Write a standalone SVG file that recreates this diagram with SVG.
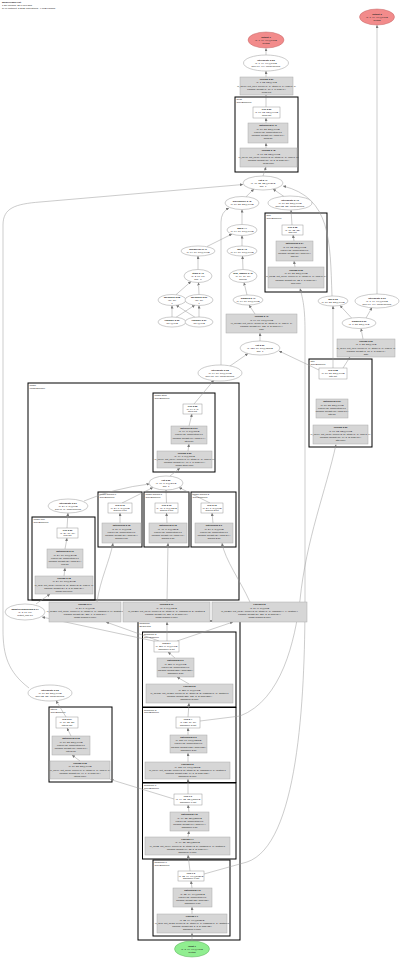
<svg xmlns="http://www.w3.org/2000/svg" width="400" height="958" viewBox="0 0 400 958">
<style>
text{font-family:"Liberation Sans",Arial,sans-serif;font-size:2.4px;text-anchor:middle;fill:#222}
.b{font-weight:bold}
.s{text-anchor:start}
.e{fill:#fff;stroke:#999;stroke-width:0.5}
.r{fill:#fff;stroke:#999;stroke-width:0.5}
.g{fill:#d6d6d6;stroke:#aaa;stroke-width:0.5}
.c{fill:none;stroke:#000;stroke-width:1}
.o{fill:#f28b8b;stroke:#c46a6a;stroke-width:0.5}
.i{fill:#90ee90;stroke:#5fb05f;stroke-width:0.5}
.l{fill:none;stroke:#999;stroke-width:0.5;marker-end:url(#a)}
</style>
<defs>
<marker id="a" markerUnits="userSpaceOnUse" markerWidth="3" markerHeight="3" refX="3" refY="1.5" orient="auto"><path d="M0,0 L3,1.5 L0,3 z" fill="#777"/></marker>
</defs>
<rect width="400" height="958" fill="#fff"/>
<g id="title">
<text class="s b" x="2" y="3">ModelGraph Plot</text>
<text class="s" x="2" y="5.8">1.2M params, 25.8 MFLOPs</text>
<text class="s" x="2" y="8.6">RAM footprint: 3.2MB (activations), 4.6MB params</text>
</g>

<g id="clusters">
<rect class="c" x="235" y="97" width="63" height="75"/><text class="s" x="236.5" y="100">head</text><text class="s" x="236.5" y="102.6">ConvBNReLU</text>
<rect class="c" x="265" y="213" width="62" height="79"/><text class="s" x="266.5" y="216">skip</text><text class="s" x="266.5" y="218.6">ConvBNReLU</text>
<rect class="c" x="309" y="359" width="63" height="88"/><text class="s" x="310.5" y="362">attn</text><text class="s" x="310.5" y="364.6">ConvBNReLU</text>
<rect class="c" x="28" y="383" width="211" height="217"/><text class="s" x="29.5" y="386">image</text><text class="s" x="29.5" y="388.6">ImageEncoder</text>
<rect class="c" x="153" y="393" width="62" height="79"/><text class="s" x="154.5" y="396">image.stem</text><text class="s" x="154.5" y="398.6">ConvBNReLU</text>
<rect class="c" x="32" y="517" width="63" height="83"/><text class="s" x="33.5" y="520">image.proj</text><text class="s" x="33.5" y="522.6">ConvBNReLU</text>
<rect class="c" x="98" y="492" width="44" height="55"/><text class="s" x="99.5" y="495">image.branch.0</text><text class="s" x="99.5" y="497.6">ConvBNReLU</text>
<rect class="c" x="144" y="492" width="45" height="55"/><text class="s" x="145.5" y="495">image.branch.1</text><text class="s" x="145.5" y="497.6">ConvBNReLU</text>
<rect class="c" x="191" y="492" width="45" height="55"/><text class="s" x="192.5" y="495">image.branch.2</text><text class="s" x="192.5" y="497.6">ConvBNReLU</text>
<rect class="c" x="138" y="621" width="102" height="319"/><text class="s" x="139.5" y="624">backbone</text><text class="s" x="139.5" y="626.6">Sequential</text>
<rect class="c" x="142.5" y="632" width="93.5" height="75"/><text class="s" x="144" y="635">backbone.3</text><text class="s" x="144" y="637.6">ConvBNReLU</text>
<rect class="c" x="142.5" y="707.5" width="93.5" height="75"/><text class="s" x="144" y="710.5">backbone.2</text><text class="s" x="144" y="713.1">ConvBNReLU</text>
<rect class="c" x="142.5" y="783" width="93.5" height="76"/><text class="s" x="144" y="786">backbone.1</text><text class="s" x="144" y="788.6">ConvBNReLU</text>
<rect class="c" x="153" y="860" width="77" height="76"/><text class="s" x="154.5" y="863">backbone.0</text><text class="s" x="154.5" y="865.6">ConvBNReLU</text>
<rect class="c" x="49" y="707" width="63" height="75"/><text class="s" x="50.5" y="710">lateral</text><text class="s" x="50.5" y="712.6">ConvBNReLU</text>
</g>

<g id="edges">
<path class="l" d="M266,55 L266,48.3"/>
<path class="l" d="M266,77 L266,71"/>
<path class="l" d="M266,107 L266,95"/>
<path class="l" d="M266,123 L266,118"/>
<path class="l" d="M266,148 L266,143"/>
<path class="l" d="M263,176 L266,167"/>
<path class="l" d="M246,196.8 L254,189"/>
<path class="l" d="M284,196.5 L273,189"/>
<path class="l" d="M242,224.5 L242,209.5"/>
<path class="l" d="M207,246.5 L232,234"/>
<path class="l" d="M242,246 L242,235.5"/>
<path class="l" d="M198,269.5 L198,256"/>
<path class="l" d="M243,269.5 L242.5,256"/>
<path class="l" d="M176,294.7 L191,281.5"/>
<path class="l" d="M199,294.5 L198.5,282.5"/>
<path class="l" d="M172,317 L172,305.5"/>
<path class="l" d="M199,317 L199,305.5"/>
<path class="l" d="M176,317.3 L195,305"/>
<path class="l" d="M195,317.3 L176,305"/>
<path class="l" d="M247,295 L244,282.5"/>
<path class="l" d="M255,314 L249,305"/>
<path class="l" d="M260,341 L260,333"/>
<path class="l" d="M230,366 L248,353.5"/>
<path class="l" d="M221,365 L221,222 Q221,212 229,208"/>
<path class="l" d="M319,370 L279,351"/>
<path class="l" d="M333,368 L333,306"/>
<path class="l" d="M343,368 L350,357"/>
<path class="l" d="M363,339 L361,328.5"/>
<path class="l" d="M366,318 L372,307.5"/>
<path class="l" d="M352,318.5 L340,305.5"/>
<path class="l" d="M377,294 L377,25"/>
<path class="l" d="M332,296 C330,240 331,198 283,186"/>
<path class="l" d="M292,225 L291,210"/>
<path class="l" d="M294,241 L293,235"/>
<path class="l" d="M295,267 L294,261"/>
<path class="l" d="M204,874 L247,862 C298,845 305,700 305,600 L305,330 C305,305 302,296 300,288.5"/>
<path class="l" d="M200,721 L240,716 C282,700 295,640 300,600 C306,540 326,490 336,444.5"/>
<path class="l" d="M174,799 L110.5,779.5"/>
<path class="l" d="M80,761 L72,755"/>
<path class="l" d="M71,736 L67,728"/>
<path class="l" d="M66,717 L56,700.6"/>
<path class="l" d="M29,688 C8,672 3,655 3,630 L3,225 C3,208 15,204 40,202 L243,184.5"/>
<path class="l" d="M156,641.5 L42,617"/>
<path class="l" d="M159,641 L106,622"/>
<path class="l" d="M167,641 L167,622"/>
<path class="l" d="M177,641 L233,622"/>
<path class="l" d="M36,604 L50,594"/>
<path class="l" d="M64,576 L65,568"/>
<path class="l" d="M65,549 L67,538"/>
<path class="l" d="M67,528 L68,513"/>
<path class="l" d="M84,501 Q115,488 149.5,484"/>
<path class="l" d="M97,602 C100,580 110,560 113,543"/>
<path class="l" d="M167,602 L168,543"/>
<path class="l" d="M250,602 C240,580 225,560 222,543"/>
<path class="l" d="M120,523 L120,513"/>
<path class="l" d="M167,523 L166.5,513"/>
<path class="l" d="M213,523 L212,513"/>
<path class="l" d="M122,503 L153,487.5"/>
<path class="l" d="M166.5,503 L166,490"/>
<path class="l" d="M210,503 L179,487.5"/>
<path class="l" d="M170,476 L180,468"/>
<path class="l" d="M188,451 L189,444"/>
<path class="l" d="M189,426 L192,414"/>
<path class="l" d="M194,404 L214,380"/>
<path class="l" d="M192,941 L192,933"/>
<path class="l" d="M192,914 L192,907"/>
<path class="l" d="M192,888 L191,881"/>
<path class="l" d="M190,871 L188,855"/>
<path class="l" d="M188,837 L189,831"/>
<path class="l" d="M189,812 L188,805"/>
<path class="l" d="M188,794 L188,779"/>
<path class="l" d="M188,762 L188,753"/>
<path class="l" d="M188,735 L188,728"/>
<path class="l" d="M188,717 L189,703"/>
<path class="l" d="M189,684 L177,677"/>
<path class="l" d="M175,658 L168,652"/>
</g>

<g id="output1"><ellipse class="o" cx="266" cy="40" rx="18" ry="8"/><text class="b" x="266" y="37.6">output 1</text><text x="266" y="40.6">(1, 1, 64, 64)@16KB</text><text x="266" y="43.6">float32</text></g>
<g id="output2"><ellipse class="o" cx="377" cy="17" rx="17.5" ry="8"/><text class="b" x="377" y="14.6">output 2</text><text x="377" y="17.6">(1, 1, 64, 64)@16KB</text><text x="377" y="20.6">float32</text></g>

<g id="interp_top"><ellipse class="e" cx="266" cy="63" rx="22.5" ry="8"/><text class="b" x="266" y="60.6">interpolate 2.52</text><text x="266" y="63.6">(1, 1, 64, 64)@16KB</text><text x="266" y="66.6">size:(64, 64), mode:bilinear</text></g>
<g id="conv_top"><rect class="g" x="240" y="77" width="53" height="18"/><text class="b" x="266.5" y="80.2">conv2d 2.51</text><text x="266.5" y="83.4">(1, 1, 32, 32)@4KB</text><text x="266.5" y="86.6">in_ch:16, out_ch:1, kernel:(1, 1), stride:(1, 1), pad:(0, 0)</text><text x="266.5" y="89.8">params: weight:(1, 16, 1, 1) bias:(1,)</text><text x="266.5" y="93">head.out</text></g>
<g id="relu_head"><rect class="r" x="253" y="107" width="27" height="11"/><text class="b" x="266.5" y="110.2">relu 2.50</text><text x="266.5" y="113.2">(1, 16, 32, 32)@64KB</text><text x="266.5" y="116.2">head.act</text></g>
<g id="bn_head"><rect class="g" x="248" y="123" width="40" height="20"/><text class="b" x="268" y="126.4">batchnorm 2.49</text><text x="268" y="129.6">(1, 16, 32, 32)@64KB</text><text x="268" y="132.8">eps:1e-05, momentum:0.1</text><text x="268" y="136">params: weight:(16,) bias:(16,)</text><text x="268" y="139.2">head.bn</text></g>
<g id="conv_head"><rect class="g" x="240" y="148" width="57" height="19"/><text class="b" x="268.5" y="151.4">conv2d 2.48</text><text x="268.5" y="154.6">(1, 16, 32, 32)@64KB</text><text x="268.5" y="157.8">in_ch:48, out_ch:16, kernel:(3, 3), stride:(1, 1), pad:(1, 1)</text><text x="268.5" y="161">params: weight:(16, 48, 3, 3) bias:(16,)</text><text x="268.5" y="164.2">head.conv</text></g>
<g id="cat_top"><ellipse class="e" cx="263" cy="183" rx="20" ry="7"/><text class="b" x="263" y="180.6">cat 2.47</text><text x="263" y="183.6">(1, 48, 32, 32)@192KB</text><text x="263" y="186.6">dim=1</text></g>
<g id="pixelshuffle"><ellipse class="e" cx="242" cy="203" rx="17" ry="6.5"/><text class="b" x="242" y="202.1">pixelshuffle 2.45</text><text x="242" y="205.1">(1, 16, 32, 32)@64KB</text></g>
<g id="interp_skip"><ellipse class="e" cx="290" cy="203" rx="22" ry="7"/><text class="b" x="290" y="200.6">interpolate 2.46</text><text x="290" y="203.6">(1, 16, 32, 32)@64KB</text><text x="290" y="206.6">size:(32, 32), mode:bilinear</text></g>
<g id="add"><ellipse class="e" cx="242" cy="230" rx="15" ry="5.5"/><text class="b" x="242" y="229.1">add 2.44</text><text x="242" y="232.1">(1, 64, 16, 16)@64KB</text></g>
<g id="unsqueeze"><ellipse class="e" cx="198" cy="251" rx="17" ry="5"/><text class="b" x="198" y="250.1">unsqueeze 2.41</text><text x="198" y="253.1">(1, 64, 16, 16)@64KB</text></g>
<g id="mul_a"><ellipse class="e" cx="242" cy="251" rx="15" ry="5"/><text class="b" x="242" y="250.1">mul 2.43</text><text x="242" y="253.1">(1, 64, 16, 16)@64KB</text></g>
<g id="stack"><ellipse class="e" cx="198" cy="276" rx="14" ry="6.5"/><text class="b" x="198" y="273.6">stack 2.40</text><text x="198" y="276.6">(1, 2, 16, 16)</text><text x="198" y="279.6">dim=-1</text></g>
<g id="gridsample"><ellipse class="e" cx="243" cy="276" rx="14" ry="6.5"/><text class="b" x="243" y="273.6">grid_sample 2.42</text><text x="243" y="276.6">(1, 64, 16, 16)</text><text x="243" y="279.6">bilinear</text></g>
<g id="meshgrid_a"><ellipse class="e" cx="172" cy="300" rx="14" ry="5.5"/><text class="b" x="172" y="297.6">meshgrid 2.38</text><text x="172" y="300.6">(16, 16)</text><text x="172" y="303.6">ij</text></g>
<g id="meshgrid_b"><ellipse class="e" cx="199" cy="300" rx="14" ry="5.5"/><text class="b" x="199" y="297.6">meshgrid 2.39</text><text x="199" y="300.6">(16, 16)</text><text x="199" y="303.6">ij</text></g>
<g id="linspace_a"><ellipse class="e" cx="172" cy="322" rx="14" ry="5"/><text class="b" x="172" y="321.1">linspace 2.36</text><text x="172" y="324.1">(16,)@64B</text></g>
<g id="linspace_b"><ellipse class="e" cx="199" cy="322" rx="14" ry="5"/><text class="b" x="199" y="321.1">linspace 2.37</text><text x="199" y="324.1">(16,)@64B</text></g>
<g id="sigmoid_a"><ellipse class="e" cx="248" cy="300" rx="15" ry="5"/><text class="b" x="248" y="299.1">sigmoid 2.41</text><text x="248" y="302.1">(1, 64, 16, 16)@64KB</text></g>
<g id="conv_fuse"><rect class="g" x="226" y="314" width="71" height="19"/><text class="b" x="261.5" y="317.4">conv2d 2.40</text><text x="261.5" y="320.6">(1, 64, 16, 16)@64KB</text><text x="261.5" y="323.8">in_ch:128, out_ch:64, kernel:(3, 3), stride:(1, 1), pad:(1, 1)</text><text x="261.5" y="327">params: weight:(64, 128, 3, 3) bias:(64,)</text><text x="261.5" y="330.2">fuse</text></g>
<g id="cat_mid"><ellipse class="e" cx="260" cy="348" rx="20" ry="7"/><text class="b" x="260" y="345.6">cat 2.39</text><text x="260" y="348.6">(1, 128, 16, 16)@128KB</text><text x="260" y="351.6">dim=1</text></g>
<g id="interp_mid"><ellipse class="e" cx="220" cy="373" rx="22" ry="8"/><text class="b" x="220" y="370.6">interpolate 2.38</text><text x="220" y="373.6">(1, 64, 16, 16)@64KB</text><text x="220" y="376.6">size:(16, 16), mode:bilinear</text></g>

<g id="relu_skip"><rect class="r" x="282" y="225" width="21" height="10"/><text class="b" x="292.5" y="227.8">relu 2.35</text><text x="292.5" y="230.6">(1, 16, 32, 32)</text><text x="292.5" y="233.4">skip.act</text></g>
<g id="bn_skip"><rect class="g" x="276" y="241" width="37" height="20"/><text class="b" x="294.5" y="244.4">batchnorm 2.34</text><text x="294.5" y="247.6">(1, 16, 32, 32)@64KB</text><text x="294.5" y="250.8">eps:1e-05, momentum:0.1</text><text x="294.5" y="254">params: weight:(16,) bias:(16,)</text><text x="294.5" y="257.2">skip.bn</text></g>
<g id="conv_skip"><rect class="g" x="268" y="267" width="56" height="21"/><text class="b" x="296" y="270.6">conv2d 2.33</text><text x="296" y="273.9">(1, 16, 32, 32)@64KB</text><text x="296" y="277.2">in_ch:32, out_ch:16, kernel:(1, 1), stride:(1, 1), pad:(0, 0)</text><text x="296" y="280.5">params: weight:(16, 32, 1, 1) bias:(16,)</text><text x="296" y="283.8">skip.conv</text></g>

<g id="mul_gate"><ellipse class="e" cx="333" cy="301" rx="15" ry="5"/><text class="b" x="333" y="300.1">mul 2.32</text><text x="333" y="303.1">(1, 16, 32, 32)@64KB</text></g>
<g id="interp_out"><ellipse class="e" cx="377" cy="301" rx="22" ry="7"/><text class="b" x="377" y="298.6">interpolate 2.31</text><text x="377" y="301.6">(1, 1, 64, 64)@16KB</text><text x="377" y="304.6">size:(64, 64), mode:bilinear</text></g>
<g id="sigmoid_gate"><ellipse class="e" cx="359" cy="323" rx="17" ry="5.5"/><text class="b" x="359" y="322.1">sigmoid 2.30</text><text x="359" y="325.1">(1, 1, 32, 32)@4KB</text></g>
<g id="conv_gate"><rect class="g" x="337" y="339" width="58" height="18"/><text class="b" x="366" y="342.2">conv2d 2.29</text><text x="366" y="345.4">(1, 1, 32, 32)@4KB</text><text x="366" y="348.6">in_ch:16, out_ch:1, kernel:(1, 1), stride:(1, 1), pad:(0, 0)</text><text x="366" y="351.8">params: weight:(1, 16, 1, 1) bias:(1,)</text><text x="366" y="355">gate</text></g>
<g id="relu_attn"><rect class="r" x="319" y="368" width="28" height="11"/><text class="b" x="333" y="371.2">relu 2.28</text><text x="333" y="374.2">(1, 16, 32, 32)@64KB</text><text x="333" y="377.2">attn.act</text></g>
<g id="bn_attn"><rect class="g" x="316" y="399" width="32" height="19"/><text class="b" x="332" y="402.4">batchnorm 2.27</text><text x="332" y="405.6">(1, 16, 32, 32)@64KB</text><text x="332" y="408.8">eps:1e-05, momentum:0.1</text><text x="332" y="412">params: weight:(16,) bias:(16,)</text><text x="332" y="415.2">attn.bn</text></g>
<g id="conv_attn"><rect class="g" x="313" y="425" width="55" height="19"/><text class="b" x="340.5" y="428.4">conv2d 2.26</text><text x="340.5" y="431.6">(1, 16, 32, 32)@64KB</text><text x="340.5" y="434.8">in_ch:64, out_ch:16, kernel:(3, 3), stride:(1, 1), pad:(1, 1)</text><text x="340.5" y="438">params: weight:(16, 64, 3, 3) bias:(16,)</text><text x="340.5" y="441.2">attn.conv</text></g>

<g id="relu_stem"><rect class="r" x="183" y="404" width="19" height="10"/><text class="b" x="192.5" y="406.8">relu 2.25</text><text x="192.5" y="409.6">(1, 64, 8, 8)</text><text x="192.5" y="412.4">stem.act</text></g>
<g id="bn_stem"><rect class="g" x="171" y="426" width="36" height="18"/><text class="b" x="189" y="429.2">batchnorm 2.24</text><text x="189" y="432.3">(1, 64, 8, 8)@16KB</text><text x="189" y="435.4">eps:1e-05, momentum:0.1</text><text x="189" y="438.5">params: weight:(64,) bias:(64,)</text><text x="189" y="441.6">stem.bn</text></g>
<g id="conv_stem"><rect class="g" x="157" y="451" width="55" height="17"/><text class="b" x="184.5" y="454">conv2d 2.23</text><text x="184.5" y="457">(1, 64, 8, 8)@16KB</text><text x="184.5" y="460">in_ch:96, out_ch:64, kernel:(1, 1), stride:(1, 1), pad:(0, 0)</text><text x="184.5" y="463">params: weight:(64, 96, 1, 1) bias:(64,)</text><text x="184.5" y="466">image.stem.conv</text></g>
<g id="cat_img"><ellipse class="e" cx="166" cy="483" rx="17" ry="7"/><text class="b" x="166" y="480.6">cat 2.22</text><text x="166" y="483.6">(1, 96, 8, 8)@24KB</text><text x="166" y="486.6">dim=1</text></g>
<g id="interp_img"><ellipse class="e" cx="68" cy="506" rx="20" ry="7"/><text class="b" x="68" y="503.6">interpolate 2.21</text><text x="68" y="506.6">(1, 24, 8, 8)@6KB</text><text x="68" y="509.6">size:(8, 8), mode:bilinear</text></g>

<g id="relu_proj"><rect class="r" x="57" y="528" width="21" height="10"/><text class="b" x="67.5" y="530.8">relu 2.20</text><text x="67.5" y="533.6">(1, 24, 16, 16)</text><text x="67.5" y="536.4">proj.act</text></g>
<g id="bn_proj"><rect class="g" x="47" y="549" width="36" height="19"/><text class="b" x="65" y="552.4">batchnorm 2.19</text><text x="65" y="555.6">(1, 24, 16, 16)@24KB</text><text x="65" y="558.8">eps:1e-05, momentum:0.1</text><text x="65" y="562">params: weight:(24,) bias:(24,)</text><text x="65" y="565.2">proj.bn</text></g>
<g id="conv_proj"><rect class="g" x="35" y="576" width="58" height="18"/><text class="b" x="64" y="579.2">conv2d 2.18</text><text x="64" y="582.4">(1, 24, 16, 16)@24KB</text><text x="64" y="585.6">in_ch:3, out_ch:24, kernel:(3, 3), stride:(2, 2), pad:(1, 1)</text><text x="64" y="588.8">params: weight:(24, 3, 3, 3) bias:(24,)</text><text x="64" y="592">image.proj.conv</text></g>

<g id="relu_b0"><rect class="r" x="108" y="503" width="24" height="10"/><text class="b" x="120" y="505.8">relu 2.16</text><text x="120" y="508.6">(1, 24, 8, 8)@6KB</text><text x="120" y="511.4">branch.0.act</text></g>
<g id="bn_b0"><rect class="g" x="102" y="523" width="39" height="20"/><text class="b" x="121.5" y="526.4">batchnorm 2.15</text><text x="121.5" y="529.6">(1, 24, 8, 8)@6KB</text><text x="121.5" y="532.8">eps:1e-05, momentum:0.1</text><text x="121.5" y="536">params: weight:(24,) bias:(24,)</text><text x="121.5" y="539.2">branch.0.bn</text></g>
<g id="relu_b1"><rect class="r" x="155" y="503" width="23" height="10"/><text class="b" x="166.5" y="505.8">relu 2.13</text><text x="166.5" y="508.6">(1, 48, 8, 8)@12KB</text><text x="166.5" y="511.4">branch.1.act</text></g>
<g id="bn_b1"><rect class="g" x="149" y="523" width="38" height="20"/><text class="b" x="168" y="526.4">batchnorm 2.12</text><text x="168" y="529.6">(1, 48, 8, 8)@12KB</text><text x="168" y="532.8">eps:1e-05, momentum:0.1</text><text x="168" y="536">params: weight:(48,) bias:(48,)</text><text x="168" y="539.2">branch.1.bn</text></g>
<g id="relu_b2"><rect class="r" x="201" y="503" width="22" height="10"/><text class="b" x="212" y="505.8">relu 2.10</text><text x="212" y="508.6">(1, 24, 8, 8)@6KB</text><text x="212" y="511.4">branch.2.act</text></g>
<g id="bn_b2"><rect class="g" x="195" y="523" width="38" height="20"/><text class="b" x="214" y="526.4">batchnorm 2.9</text><text x="214" y="529.6">(1, 24, 8, 8)@6KB</text><text x="214" y="532.8">eps:1e-05, momentum:0.1</text><text x="214" y="536">params: weight:(24,) bias:(24,)</text><text x="214" y="539.2">branch.2.bn</text></g>

<g id="shape_node"><ellipse class="e" cx="25" cy="612" rx="20" ry="8"/><text class="b" x="25" y="609.6">adaptiveavgpool2d 2.17</text><text x="25" y="612.6">(1, 3, 16, 16)</text><text x="25" y="615.6">output_size:16</text></g>
<g id="conv_b0"><rect class="g" x="49" y="602" width="72" height="20"/><text class="b" x="85" y="605.4">conv2d 2.14</text><text x="85" y="608.6">(1, 24, 8, 8)@6KB</text><text x="85" y="611.8">in_ch:256, out_ch:24, kernel:(1, 1), stride:(1, 1), padding:(0, 0), dilation:1</text><text x="85" y="615">params: weight:(24, 256, 1, 1) bias:(24,)</text><text x="85" y="618.2">image.branch.0.conv</text></g>
<g id="conv_b1"><rect class="g" x="123" y="602" width="87" height="20"/><text class="b" x="166.5" y="605.4">conv2d 2.11</text><text x="166.5" y="608.6">(1, 48, 8, 8)@12KB</text><text x="166.5" y="611.8">in_ch:256, out_ch:48, kernel:(3, 3), stride:(1, 1), padding:(2, 2), dilation:2</text><text x="166.5" y="615">params: weight:(48, 256, 3, 3) bias:(48,)</text><text x="166.5" y="618.2">image.branch.1.conv</text></g>
<g id="conv_b2"><rect class="g" x="212" y="602" width="95" height="20"/><text class="b" x="259.5" y="605.4">conv2d 2.8</text><text x="259.5" y="608.6">(1, 24, 8, 8)@6KB</text><text x="259.5" y="611.8">in_ch:256, out_ch:24, kernel:(3, 3), stride:(1, 1), padding:(4, 4), dilation:4</text><text x="259.5" y="615">params: weight:(24, 256, 3, 3) bias:(24,)</text><text x="259.5" y="618.2">image.branch.2.conv</text></g>

<g id="relu_bb3"><rect class="r" x="154" y="641" width="25" height="11"/><text class="b" x="166.5" y="644.2">relu 2.7</text><text x="166.5" y="647.2">(1, 256, 8, 8)@64KB</text><text x="166.5" y="650.2">backbone.3.act</text></g>
<g id="bn_bb3"><rect class="g" x="157" y="658" width="37" height="19"/><text class="b" x="175.5" y="661.4">batchnorm 2.6</text><text x="175.5" y="664.6">(1, 256, 8, 8)@64KB</text><text x="175.5" y="667.8">eps:1e-05, momentum:0.1</text><text x="175.5" y="671">params: weight:(256,) bias:(256,)</text><text x="175.5" y="674.2">backbone.3.bn</text></g>
<g id="conv_bb3"><rect class="g" x="146" y="684" width="87" height="19"/><text class="b" x="189.5" y="687.4">conv2d 2.5</text><text x="189.5" y="690.6">(1, 256, 8, 8)@64KB</text><text x="189.5" y="693.8">in_ch:128, out_ch:256, kernel:(3, 3), stride:(2, 2), padding:(1, 1), dilation:1</text><text x="189.5" y="697">params: weight:(256, 128, 3, 3) bias:(256,)</text><text x="189.5" y="700.2">backbone.3.conv</text></g>
<g id="relu_bb2"><rect class="r" x="176" y="717" width="24" height="11"/><text class="b" x="188" y="720.2">relu 2.4</text><text x="188" y="723.2">(1, 128, 16, 16)</text><text x="188" y="726.2">backbone.2.act</text></g>
<g id="bn_bb2"><rect class="g" x="170" y="735" width="37" height="18"/><text class="b" x="188.5" y="738.2">batchnorm 2.3</text><text x="188.5" y="741.3">(1, 128, 16, 16)@128KB</text><text x="188.5" y="744.4">eps:1e-05, momentum:0.1</text><text x="188.5" y="747.5">params: weight:(128,) bias:(128,)</text><text x="188.5" y="750.6">backbone.2.bn</text></g>
<g id="conv_bb2"><rect class="g" x="145" y="762" width="85" height="17"/><text class="b" x="187.5" y="765">conv2d 2.2</text><text x="187.5" y="768">(1, 128, 16, 16)@128KB</text><text x="187.5" y="771">in_ch:64, out_ch:128, kernel:(3, 3), stride:(2, 2), padding:(1, 1), dilation:1</text><text x="187.5" y="774">params: weight:(128, 64, 3, 3) bias:(128,)</text><text x="187.5" y="777">backbone.2.conv</text></g>
<g id="relu_bb1"><rect class="r" x="174" y="794" width="28" height="11"/><text class="b" x="188" y="797.2">relu 1.9</text><text x="188" y="800.2">(1, 64, 32, 32)@256KB</text><text x="188" y="803.2">backbone.1.act</text></g>
<g id="bn_bb1"><rect class="g" x="170" y="812" width="39" height="19"/><text class="b" x="189.5" y="815.4">batchnorm 1.8</text><text x="189.5" y="818.6">(1, 64, 32, 32)@256KB</text><text x="189.5" y="821.8">eps:1e-05, momentum:0.1</text><text x="189.5" y="825">params: weight:(64,) bias:(64,)</text><text x="189.5" y="828.2">backbone.1.bn</text></g>
<g id="conv_bb1"><rect class="g" x="145" y="837" width="85" height="18"/><text class="b" x="187.5" y="840.2">conv2d 1.7</text><text x="187.5" y="843.4">(1, 64, 32, 32)@256KB</text><text x="187.5" y="846.6">in_ch:32, out_ch:64, kernel:(3, 3), stride:(2, 2), padding:(1, 1), dilation:1</text><text x="187.5" y="849.8">params: weight:(64, 32, 3, 3) bias:(64,)</text><text x="187.5" y="853">backbone.1.conv</text></g>
<g id="relu_bb0"><rect class="r" x="178" y="871" width="26" height="10"/><text class="b" x="191" y="873.8">relu 1.3</text><text x="191" y="876.6">(1, 32, 64, 64)@512KB</text><text x="191" y="879.4">backbone.0.act</text></g>
<g id="bn_bb0"><rect class="g" x="173" y="888" width="39" height="19"/><text class="b" x="192.5" y="891.4">batchnorm 1.2</text><text x="192.5" y="894.6">(1, 32, 64, 64)@512KB</text><text x="192.5" y="897.8">eps:1e-05, momentum:0.1</text><text x="192.5" y="901">params: weight:(32,) bias:(32,)</text><text x="192.5" y="904.2">backbone.0.bn</text></g>
<g id="conv_bb0"><rect class="g" x="157" y="914" width="70" height="19"/><text class="b" x="192" y="917.4">conv2d 1.1</text><text x="192" y="920.6">(1, 32, 64, 64)@512KB</text><text x="192" y="923.8">in_ch:3, out_ch:32, kernel:(3, 3), stride:(1, 1), padding:(1, 1), dilation:1</text><text x="192" y="927">params: weight:(32, 3, 3, 3) bias:(32,)</text><text x="192" y="930.2">backbone.0.conv</text></g>

<g id="interp_lat"><ellipse class="e" cx="50" cy="693" rx="22" ry="8"/><text class="b" x="50" y="690.6">interpolate 2.65</text><text x="50" y="693.6">(1, 16, 32, 32)@64KB</text><text x="50" y="696.6">size:(32, 32), mode:bilinear</text></g>
<g id="relu_lat"><rect class="r" x="56" y="717" width="22" height="11"/><text class="b" x="67" y="720.2">relu 2.64</text><text x="67" y="723.2">(1, 16, 32, 32)</text><text x="67" y="726.2">lateral.act</text></g>
<g id="bn_lat"><rect class="g" x="52" y="736" width="38" height="19"/><text class="b" x="71" y="739.4">batchnorm 2.63</text><text x="71" y="742.6">(1, 16, 32, 32)@64KB</text><text x="71" y="745.8">eps:1e-05, momentum:0.1</text><text x="71" y="749">params: weight:(16,) bias:(16,)</text><text x="71" y="752.2">lateral.bn</text></g>
<g id="conv_lat"><rect class="g" x="50" y="761" width="60" height="18"/><text class="b" x="80" y="764.2">conv2d 2.62</text><text x="80" y="767.4">(1, 16, 32, 32)@64KB</text><text x="80" y="770.6">in_ch:64, out_ch:16, kernel:(1, 1), stride:(1, 1), pad:(0, 0)</text><text x="80" y="773.8">params: weight:(16, 64, 1, 1) bias:(16,)</text><text x="80" y="777">lateral.conv</text></g>

<g id="input"><ellipse class="i" cx="192" cy="949" rx="17.5" ry="8"/><text class="b" x="192" y="946.6">input 1</text><text x="192" y="949.6">(1, 3, 64, 64)@48KB</text><text x="192" y="952.6">float32</text></g>
</svg>
